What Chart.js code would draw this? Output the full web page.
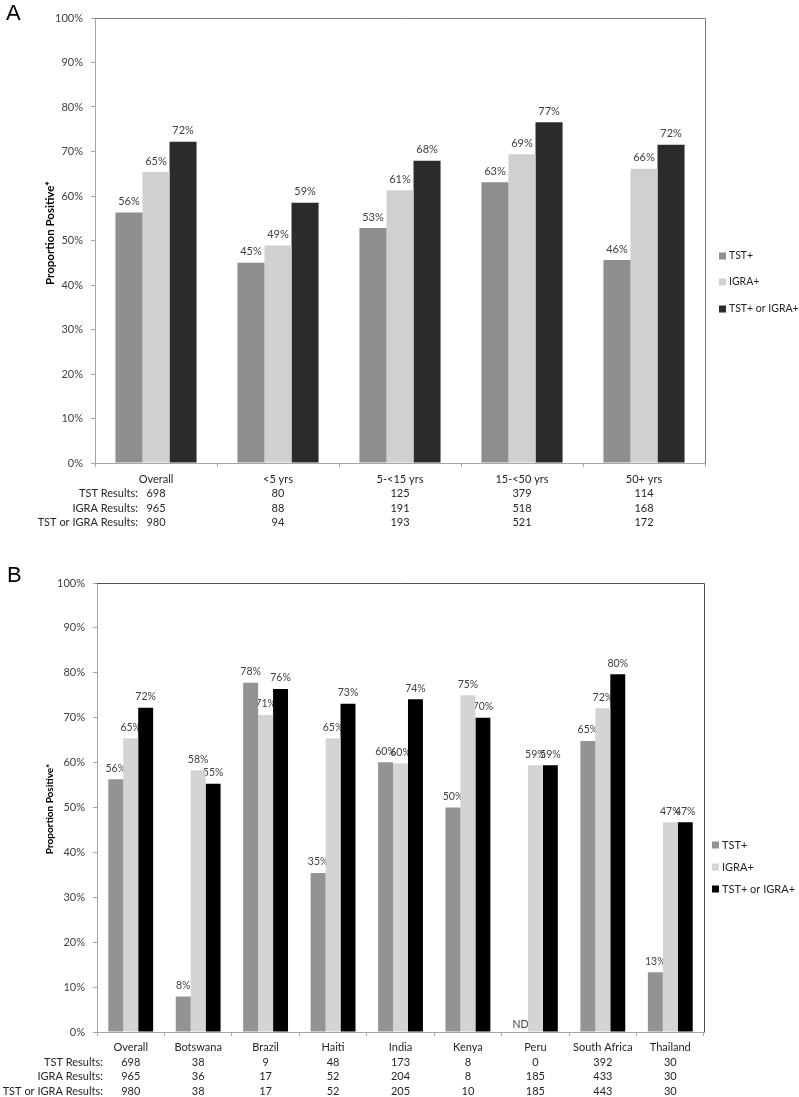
<!DOCTYPE html>
<html lang="en">
<head>
<meta charset="UTF-8">
<title>TST and IGRA positivity</title>
<script src="https://cdn.jsdelivr.net/npm/chart.js"></script>
<style>
  body { margin: 0; background: #fff; }
  canvas { display: block; }
</style>
</head>
<body>
<canvas id="chartA" width="799" height="560"></canvas>
<canvas id="chartB" width="799" height="537"></canvas>
<script>
const FONT = 'Lato, "Liberation Sans", sans-serif';
const seriesNames = ['TST+', 'IGRA+', 'TST+ or IGRA+'];
const rowNames = ['TST Results:', 'IGRA Results:', 'TST or IGRA Results:'];

// panel A - by age group
const categoriesA = ['Overall', '<5 yrs', '5-<15 yrs', '15-<50 yrs', '50+ yrs'];
const tstA = [56.3, 45.0, 52.8, 63.1, 45.6];
const igraA = [65.4, 48.9, 61.3, 69.4, 66.1];
const anyA = [72.2, 58.5, 67.9, 76.6, 71.5];
const tstCountA = [698, 80, 125, 379, 114];
const igraCountA = [965, 88, 191, 518, 168];
const anyCountA = [980, 94, 193, 521, 172];

// panel B - by country (null = ND)
const categoriesB = ['Overall', 'Botswana', 'Brazil', 'Haiti', 'India', 'Kenya', 'Peru', 'South Africa', 'Thailand'];
const tstB = [56.3, 7.9, 77.8, 35.4, 60.1, 50.0, null, 64.8, 13.3];
const igraB = [65.4, 58.3, 70.6, 65.4, 59.8, 75.0, 59.4, 72.1, 46.7];
const anyB = [72.2, 55.3, 76.4, 73.1, 74.1, 70.0, 59.4, 79.7, 46.7];
const tstCountB = [698, 38, 9, 48, 173, 8, 0, 392, 30];
const igraCountB = [965, 36, 17, 52, 204, 8, 185, 433, 30];
const anyCountB = [980, 38, 17, 52, 205, 10, 185, 443, 30];

function decoPlugin(p) {
  return {
    id: 'deco',
    beforeDatasetsDraw(chart) {
      // value labels go under the bars, like the original where tall neighbours clip them
      const ctx = chart.ctx;
      ctx.save();
      ctx.font = p.valueSize + 'px ' + FONT;
      ctx.fillStyle = '#404040';
      ctx.textAlign = 'center';
      ctx.textBaseline = 'middle';
      chart.data.datasets.forEach((ds, di) => {
        chart.getDatasetMeta(di).data.forEach((bar, i) => {
          const v = ds.data[i];
          if (v === null) {
            ctx.fillText('ND', bar.x, chart.chartArea.bottom - 7);
          } else {
            ctx.fillText(Math.round(v) + '%', bar.x, bar.y - 11);
          }
        });
      });
      ctx.restore();
    },
    afterDraw(chart) {
      const ctx = chart.ctx;
      const a = chart.chartArea;
      ctx.save();
      // top + right frame of the plot
      ctx.strokeStyle = p.boxColor;
      ctx.lineWidth = 1;
      ctx.beginPath();
      ctx.moveTo(a.left, Math.round(a.top) + 0.5);
      ctx.lineTo(Math.round(a.right) + 0.5, Math.round(a.top) + 0.5);
      ctx.lineTo(Math.round(a.right) + 0.5, a.bottom);
      ctx.stroke();

      // row headers of the count table
      ctx.fillStyle = '#262626';
      ctx.font = '11px ' + FONT;
      ctx.textAlign = 'right';
      ctx.textBaseline = 'middle';
      rowNames.forEach((r, k) => {
        ctx.fillText(r, p.rowX, a.bottom + p.firstLine + (k + 1) * p.lineH);
      });

      // legend
      ctx.textAlign = 'left';
      ctx.font = p.legendSize + 'px ' + FONT;
      seriesNames.forEach((s, k) => {
        const y = p.legendY[k];
        ctx.fillStyle = p.colors[k];
        ctx.fillRect(p.legendX, y - 3.5, 7, 7);
        ctx.fillStyle = '#262626';
        ctx.fillText(s, p.legendX + 10, y);
      });

      // y axis title
      ctx.save();
      ctx.translate(p.titleX, p.titleY);
      ctx.rotate(-Math.PI / 2);
      ctx.textAlign = 'center';
      ctx.font = 'bold ' + p.titleSize + 'px ' + FONT;
      ctx.fillStyle = '#000';
      ctx.fillText('Proportion Positive*', 0, 0);
      ctx.restore();

      // panel letter
      ctx.font = '22px "Liberation Sans", Arial, sans-serif';
      ctx.fillStyle = '#000';
      ctx.textAlign = 'left';
      ctx.textBaseline = 'alphabetic';
      ctx.fillText(p.letter, p.letterX, p.letterY);
      ctx.restore();
    }
  };
}

function buildPanel(id, p) {
  const labels = p.categories.map((c, i) => [c, String(p.counts[0][i]), String(p.counts[1][i]), String(p.counts[2][i])]);
  return new Chart(document.getElementById(id), {
    type: 'bar',
    data: {
      labels: labels,
      datasets: p.series.map((d, k) => ({
        label: seriesNames[k],
        data: d,
        backgroundColor: p.colors[k],
        borderWidth: 0
      }))
    },
    options: {
      responsive: false,
      animation: false,
      devicePixelRatio: 1,
      layout: { padding: { left: 0, right: 799 - p.right, top: p.top, bottom: 0 } },
      datasets: { bar: { categoryPercentage: 0.665, barPercentage: 1 } },
      scales: {
        x: {
          grid: { display: true, drawOnChartArea: false, offset: true, tickLength: 4, color: '#a6a6a6' },
          border: { color: '#a6a6a6' },
          ticks: {
            autoSkip: false, maxRotation: 0, padding: p.tickPad, color: '#262626',
            font: { family: FONT, size: 11, lineHeight: p.lineH + 'px' }
          },
          afterFit: s => { s.height = p.height - p.bottom; }
        },
        y: {
          min: 0, max: 100,
          grid: { drawOnChartArea: false, tickLength: 4, color: '#a6a6a6' },
          border: { color: '#a6a6a6' },
          ticks: {
            stepSize: 10, padding: 8, color: '#404040',
            font: { family: FONT, size: 11 },
            callback: v => v + '%'
          },
          afterFit: s => { s.width = p.left; }
        }
      },
      plugins: { legend: { display: false }, tooltip: { enabled: false } }
    },
    plugins: [decoPlugin(p)]
  });
}

buildPanel('chartA', {
  letter: 'A', letterX: 6, letterY: 20,
  categories: categoriesA,
  series: [tstA, igraA, anyA],
  counts: [tstCountA, igraCountA, anyCountA],
  colors: ['#8e8e8e', '#d0d0d0', '#2b2b2b'],
  boxColor: '#7a7a7a',
  height: 560, top: 18, bottom: 463, left: 95, right: 705,
  tickPad: 5, lineH: 14.5, firstLine: 16, rowX: 138,
  legendX: 719, legendY: [256, 282, 309], legendSize: 10.5,
  titleX: 50, titleY: 233, titleSize: 11.5, valueSize: 11
});

buildPanel('chartB', {
  letter: 'B', letterX: 7, letterY: 22,
  categories: categoriesB,
  series: [tstB, igraB, anyB],
  counts: [tstCountB, igraCountB, anyCountB],
  colors: ['#939393', '#d4d4d4', '#000000'],
  boxColor: '#505050',
  height: 537, top: 23, bottom: 472, left: 97, right: 704,
  tickPad: 4, lineH: 14.7, firstLine: 15.35, rowX: 103,
  legendX: 712, legendY: [285, 307, 329], legendSize: 11,
  titleX: 50, titleY: 249, titleSize: 10, valueSize: 10.5
});
</script>
</body>
</html>
